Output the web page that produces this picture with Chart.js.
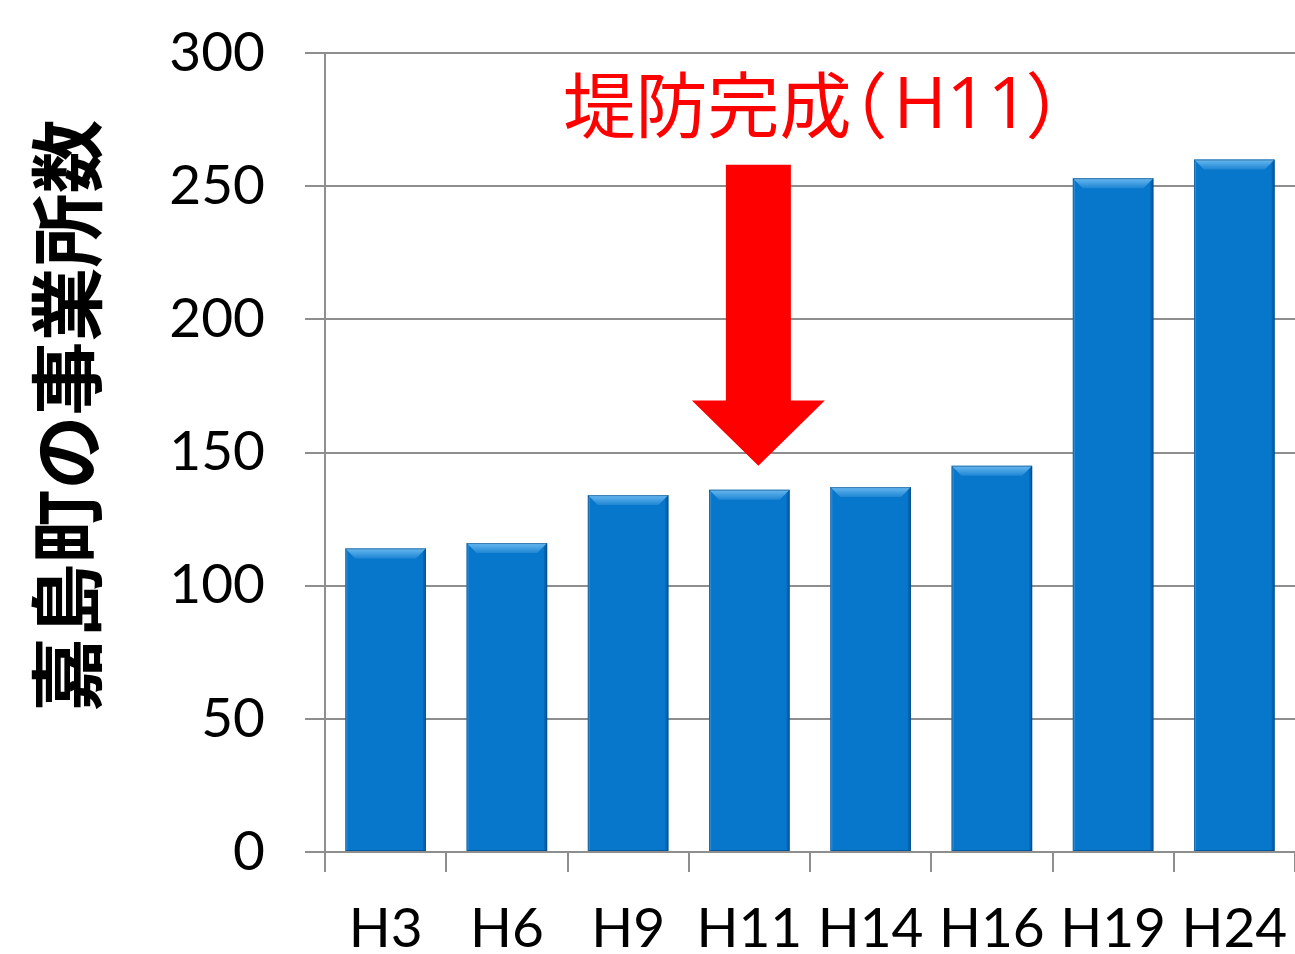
<!DOCTYPE html>
<html>
<head>
<meta charset="utf-8">
<script src="https://cdn.jsdelivr.net/npm/chart.js@4"></script>
<style>
  html, body { margin: 0; padding: 0; background: #fff; }
  #wrap { width: 1295px; height: 954px; }
</style>
</head>
<body>
<div id="wrap"><canvas id="myChart" width="1295" height="954"></canvas></div>
<script>
// chart data
const categories = ["H3", "H6", "H9", "H11", "H14", "H16", "H19", "H24"];
const establishments = [114, 116, 134, 136, 137, 145, 253, 260];
const yTicks = [0, 50, 100, 150, 200, 250, 300];
const axisTitle = "\u3000嘉島町の事業所数";
const noteParts = ["堤防完成", "（", "H11", "）"];
const noteCategory = "H11";

const ctx = document.getElementById("myChart").getContext("2d");

// little bevel on top of each bar, like the office chart
const bevelPlugin = {
  id: "bevel",
  afterDatasetsDraw(chart) {
    const c = chart.ctx;
    const meta = chart.getDatasetMeta(0);
    meta.data.forEach((bar) => {
      const l = bar.x - bar.width / 2;
      const r = bar.x + bar.width / 2;
      const t = bar.y;
      const b = bar.base;
      const d = 10;
      c.save();
      // top face
      const g = c.createLinearGradient(0, t, 0, t + d);
      g.addColorStop(0, "#69b9f0");
      g.addColorStop(1, "#1f86d4");
      c.fillStyle = g;
      c.beginPath();
      c.moveTo(l, t);
      c.lineTo(r, t);
      c.lineTo(r - d, t + d);
      c.lineTo(l + d, t + d);
      c.closePath();
      c.fill();
      // right edge a bit darker
      c.fillStyle = "rgba(0,40,90,0.25)";
      c.beginPath();
      c.moveTo(r, t);
      c.lineTo(r, b);
      c.lineTo(r - 3, b);
      c.lineTo(r - 3, t + 3);
      c.closePath();
      c.fill();
      // left edge a bit lighter
      c.fillStyle = "rgba(120,190,240,0.35)";
      c.fillRect(l, t + 2, 2, b - t - 2);
      c.strokeStyle = "rgba(0,50,100,0.45)";
      c.lineWidth = 1;
      c.strokeRect(l + 0.5, t + 0.5, bar.width - 1, b - t - 1);
      c.restore();
    });
  },
};

// red arrow + note over the H11 bar
const notePlugin = {
  id: "note",
  afterDraw(chart) {
    const c = chart.ctx;
    const xs = chart.scales.x;
    const ys = chart.scales.y;
    const cx = xs.getPixelForValue(categories.indexOf(noteCategory)) + 9;
    const tipY = ys.getPixelForValue(145);
    const headY = ys.getPixelForValue(169.5);
    const topY = ys.getPixelForValue(258);
    c.save();
    c.fillStyle = "#ff0000";
    c.beginPath();
    c.moveTo(cx - 32.5, topY);
    c.lineTo(cx + 32.5, topY);
    c.lineTo(cx + 32.5, headY);
    c.lineTo(cx + 66.5, headY);
    c.lineTo(cx, tipY);
    c.lineTo(cx - 66.5, headY);
    c.lineTo(cx - 32.5, headY);
    c.closePath();
    c.fill();
    // text pieces, the wide brackets set tight like the original
    c.font = "72px 'Noto Sans CJK JP'";
    c.textBaseline = "middle";
    const ty = ys.getPixelForValue(280.5);
    const x0 = cx - 195;
    c.textAlign = "left";
    c.fillText(noteParts[0], x0, ty);
    c.textAlign = "right";
    c.fillText(noteParts[1], x0 + 324, ty);
    c.textAlign = "left";
    c.font = "72px 'Open Sans'";
    c.fillText(noteParts[2], x0 + 330, ty + 3);
    c.font = "72px 'Noto Sans CJK JP'";
    c.fillText(noteParts[3], x0 + 462, ty);
    c.restore();
  },
};

new Chart(ctx, {
  type: "bar",
  data: {
    labels: categories,
    datasets: [
      {
        label: "事業所数",
        data: establishments,
        backgroundColor: "#0777cb",
        borderWidth: 0,
        categoryPercentage: 1,
        barPercentage: 0.665,
      },
    ],
  },
  options: {
    responsive: false,
    animation: false,
    devicePixelRatio: 1,
    layout: { padding: { top: 53, right: -6, left: 0, bottom: 0 } },
    plugins: {
      legend: { display: false },
      tooltip: { enabled: false },
    },
    scales: {
      x: {
        offset: true,
        afterFit(axis) {
          axis.height = 102;
          axis.paddingLeft = 0;
          axis.paddingRight = 0;
        },
        grid: {
          offset: true,
          drawOnChartArea: false,
          drawTicks: true,
          tickLength: 20,
          color: "#8e8e8e",
          lineWidth: 2,
        },
        border: { color: "#8e8e8e", width: 2 },
        ticks: {
          color: "#000",
          padding: 24,
          maxRotation: 0,
          autoSkip: false,
          font: { family: "Lato", size: 55 },
        },
      },
      y: {
        min: 0,
        max: 300,
        afterBuildTicks(axis) {
          axis.ticks = yTicks.map((v) => ({ value: v }));
        },
        afterFit(axis) {
          axis.width = 325;
          axis.paddingTop = 0;
          axis.paddingBottom = 0;
        },
        grid: {
          color: "#8e8e8e",
          lineWidth: 2,
          tickLength: 20,
        },
        border: { color: "#8e8e8e", width: 2 },
        ticks: {
          color: "#000",
          padding: 40,
          font: { family: "Lato", size: 55 },
        },
        title: {
          display: true,
          text: axisTitle,
          color: "#000",
          font: { family: "'Noto Sans CJK JP'", size: 74, weight: "bold" },
          padding: { top: 22, bottom: 20 },
        },
      },
    },
  },
  plugins: [bevelPlugin, notePlugin],
});
</script>
</body>
</html>
